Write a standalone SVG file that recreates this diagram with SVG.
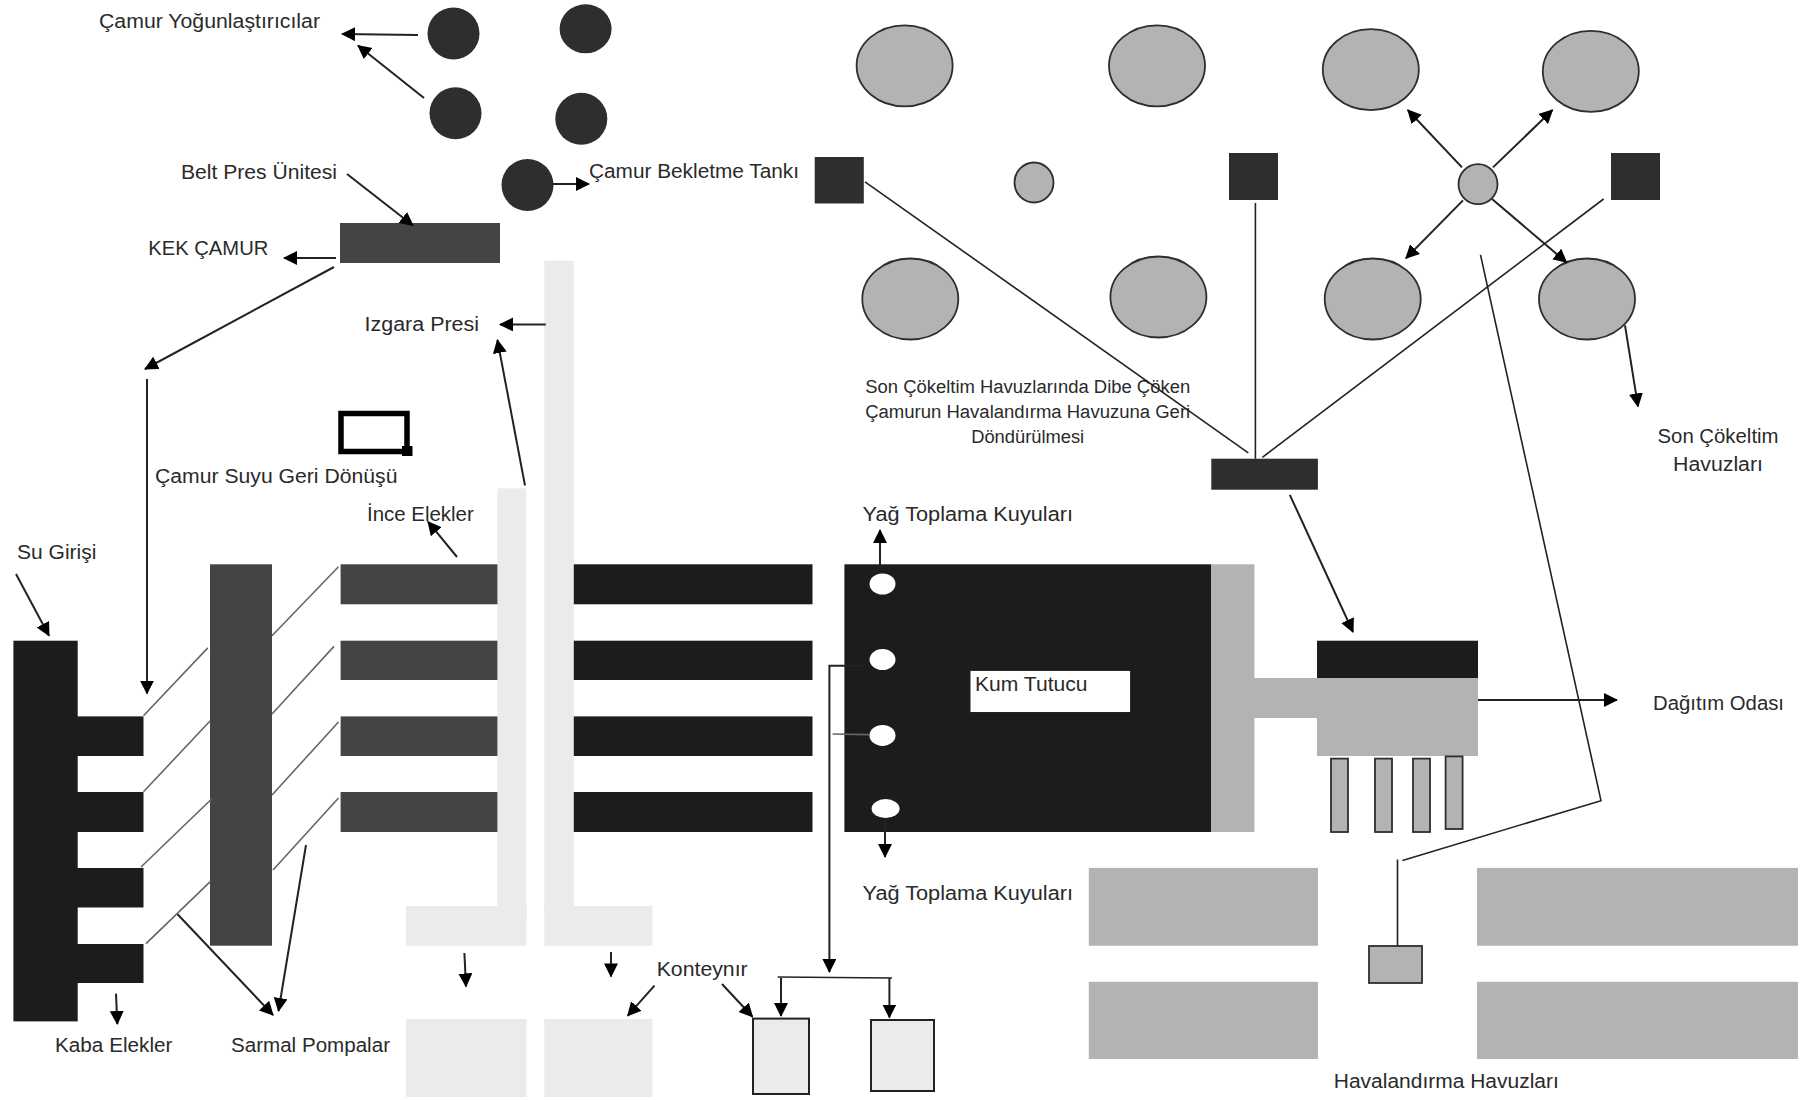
<svg xmlns="http://www.w3.org/2000/svg" width="1800" height="1100" viewBox="0 0 1800 1100">
<style>
text{font-family:"Liberation Sans",Arial,sans-serif;font-size:20px;fill:#2a2a2a}
text.sm{font-size:18px}
.k{fill:#1c1c1c}.d{fill:#444}.dc{fill:#2e2e2e}.g{fill:#b3b3b3}.l{fill:#ebebeb}
.gs{fill:#b3b3b3;stroke:#2e2e2e;stroke-width:1.8}
.ls{fill:#ebebeb;stroke:#222;stroke-width:2}
.a{fill:none;stroke:#222;stroke-width:2;marker-end:url(#ah)}
.n{fill:none;stroke:#222;stroke-width:1.6}
.s{fill:none;stroke:#666;stroke-width:1.6}
.w{fill:#fff}
</style>
<defs>
<marker id="ah" markerUnits="userSpaceOnUse" markerWidth="16" markerHeight="16" refX="13" refY="7" orient="auto"><path d="M0,0L14,7L0,14z" fill="#000"/></marker>
</defs>
<rect width="1800" height="1100" fill="#fff"/>
<g id="thickeners">
<ellipse class="dc" cx="453.5" cy="33.4" rx="26" ry="26"/>
<ellipse class="dc" cx="585.6" cy="28.8" rx="26" ry="24.5"/>
<ellipse class="dc" cx="455.5" cy="113.3" rx="26" ry="26"/>
<ellipse class="dc" cx="581.3" cy="118.8" rx="26" ry="26"/>
<text x="99" y="27.5" textLength="221" lengthAdjust="spacingAndGlyphs">Çamur Yoğunlaştırıcılar</text>
</g>
<g id="holding-tank">
<ellipse class="dc" cx="527.5" cy="185" rx="26" ry="26"/>
<text x="589" y="178" textLength="210" lengthAdjust="spacingAndGlyphs">Çamur Bekletme Tankı</text>
</g>
<g id="belt-press">
<rect class="d" x="340" y="223" width="160" height="40"/>
<text x="181" y="179" textLength="156" lengthAdjust="spacingAndGlyphs">Belt Pres Ünitesi</text>
</g>
<g id="cake"><text x="148.3" y="254.8" textLength="120" lengthAdjust="spacingAndGlyphs">KEK ÇAMUR</text></g>
<g id="grid-press"><text x="364.6" y="331.3" textLength="114.4" lengthAdjust="spacingAndGlyphs">Izgara Presi</text></g>
<g id="return-water">
<rect x="341" y="413.5" width="66" height="38" fill="none" stroke="#000" stroke-width="5.5"/>
<rect x="402" y="446" width="10.5" height="10" fill="#000"/>
<text x="155" y="483" textLength="242.4" lengthAdjust="spacingAndGlyphs">Çamur Suyu Geri Dönüşü</text>
</g>
<g id="coarse-screens">
<rect class="k" x="13.4" y="640.7" width="64.3" height="380.7"/>
<rect class="k" x="77" y="716.4" width="66.5" height="39.6"/>
<rect class="k" x="77" y="792" width="66.5" height="40"/>
<rect class="k" x="77" y="868" width="66.5" height="39.5"/>
<rect class="k" x="77" y="944" width="66.5" height="39"/>
<text x="55" y="1051.8" textLength="117.5" lengthAdjust="spacingAndGlyphs">Kaba Elekler</text>
</g>
<g id="inlet"><text x="17" y="558.6" textLength="79.4" lengthAdjust="spacingAndGlyphs">Su Girişi</text></g>
<g id="screw-pumps">
<rect class="d" x="210" y="564.3" width="62" height="381.4"/>
<text x="231" y="1051.8" textLength="159" lengthAdjust="spacingAndGlyphs">Sarmal Pompalar</text>
</g>
<g id="fine-screens">
<rect class="d" x="340.6" y="564.3" width="157.4" height="40"/>
<rect class="d" x="340.6" y="640.7" width="157.4" height="39.3"/>
<rect class="d" x="340.6" y="716.4" width="157.4" height="39.6"/>
<rect class="d" x="340.6" y="792" width="157.4" height="40"/>
<text x="367" y="520.7" textLength="106.7" lengthAdjust="spacingAndGlyphs">İnce Elekler</text>
</g>
<g id="channels">
<rect class="k" x="572.6" y="564.3" width="239.9" height="40"/>
<rect class="k" x="572.6" y="640.7" width="239.9" height="39.3"/>
<rect class="k" x="572.6" y="716.4" width="239.9" height="39.6"/>
<rect class="k" x="572.6" y="792" width="239.9" height="40"/>
</g>
<g id="screenings-conveyors">
<rect class="l" x="497.4" y="488.3" width="29" height="430"/>
<rect class="l" x="406" y="906" width="120.5" height="39.7"/>
<rect class="l" x="544.3" y="260.7" width="29.5" height="650"/>
<rect class="l" x="544.3" y="906" width="108.1" height="39.7"/>
</g>
<g id="skips">
<rect class="l" x="406" y="1019" width="120.5" height="78"/>
<rect class="l" x="544.3" y="1019" width="108.1" height="78"/>
<text x="656.7" y="976" textLength="91" lengthAdjust="spacingAndGlyphs">Konteynır</text>
</g>
<g id="containers">
<rect class="ls" x="753" y="1018.6" width="56" height="75.4"/>
<rect class="ls" x="871" y="1020" width="63" height="71"/>
</g>
<g id="grit-chamber">
<rect class="k" x="844.4" y="564.3" width="366.6" height="267.7"/>
<rect class="g" x="1211" y="564.3" width="43.4" height="267.7"/>
<rect class="w" x="970" y="670.4" width="160.6" height="42.1" stroke="#222" stroke-width="1"/>
<text x="975" y="691" textLength="112.5" lengthAdjust="spacingAndGlyphs">Kum Tutucu</text>
</g>
<g id="grease-wells">
<ellipse class="w" cx="882.5" cy="584" rx="13" ry="10.5"/>
<ellipse class="w" cx="882.5" cy="659.6" rx="13" ry="10.5"/>
<ellipse class="w" cx="882.5" cy="735.4" rx="13" ry="10.5"/>
<ellipse class="w" cx="885.6" cy="808.6" rx="14" ry="9.5"/>
<text x="862.5" y="520.7" textLength="210.5" lengthAdjust="spacingAndGlyphs">Yağ Toplama Kuyuları</text>
<text x="862.5" y="900" textLength="210.5" lengthAdjust="spacingAndGlyphs">Yağ Toplama Kuyuları</text>
</g>
<g id="distribution-chamber">
<rect class="g" x="1254" y="678" width="64" height="40"/>
<rect class="k" x="1317" y="640.7" width="161" height="37.3"/>
<rect class="g" x="1317" y="678" width="161" height="78"/>
<text x="1653" y="709.6" textLength="131" lengthAdjust="spacingAndGlyphs">Dağıtım Odası</text>
</g>
<g id="outlets">
<rect class="gs" x="1331" y="758.6" width="17" height="73.4"/>
<rect class="gs" x="1375" y="758.6" width="17" height="73.4"/>
<rect class="gs" x="1413" y="758.6" width="17" height="73.4"/>
<rect class="gs" x="1445.6" y="756.4" width="17" height="72.6"/>
</g>
<g id="aeration-tanks">
<rect class="g" x="1088.8" y="867.9" width="229.2" height="77.8"/>
<rect class="g" x="1088.8" y="981.8" width="229.2" height="77.2"/>
<rect class="g" x="1477" y="867.9" width="321" height="77.8"/>
<rect class="g" x="1477" y="981.8" width="321" height="77.2"/>
<text x="1333.8" y="1088" textLength="225" lengthAdjust="spacingAndGlyphs">Havalandırma Havuzları</text>
</g>
<g id="aeration-box"><rect class="gs" x="1369" y="946" width="53" height="37"/></g>
<g id="final-clarifiers">
<ellipse class="gs" cx="904.6" cy="65.8" rx="48" ry="40.5"/>
<ellipse class="gs" cx="1157" cy="65.8" rx="48" ry="40.5"/>
<ellipse class="gs" cx="1370.8" cy="69.6" rx="48" ry="40.5"/>
<ellipse class="gs" cx="1590.8" cy="71.3" rx="48" ry="40.5"/>
<ellipse class="gs" cx="910.3" cy="299" rx="48" ry="40.5"/>
<ellipse class="gs" cx="1158.4" cy="297" rx="48" ry="40.5"/>
<ellipse class="gs" cx="1372.7" cy="299" rx="48" ry="40.5"/>
<ellipse class="gs" cx="1587" cy="299" rx="48" ry="40.5"/>
<text x="1718" y="442.5" text-anchor="middle" textLength="121" lengthAdjust="spacingAndGlyphs">Son Çökeltim</text>
<text x="1718" y="471" text-anchor="middle" textLength="90" lengthAdjust="spacingAndGlyphs">Havuzları</text>
</g>
<g id="clarifier-hubs">
<ellipse class="gs" cx="1034" cy="182.5" rx="19.5" ry="20"/>
<ellipse class="gs" cx="1478" cy="184.2" rx="19.5" ry="20"/>
</g>
<g id="sludge-pits">
<rect class="dc" x="814.7" y="157" width="49.1" height="46.5"/>
<rect class="dc" x="1229" y="153" width="49" height="47"/>
<rect class="dc" x="1611" y="153" width="49" height="47"/>
</g>
<g id="return-sludge-pump">
<rect class="dc" x="1211.3" y="458.7" width="106.6" height="31"/>
<text class="sm" x="1027.7" y="393" text-anchor="middle" textLength="325" lengthAdjust="spacingAndGlyphs">Son Çökeltim Havuzlarında Dibe Çöken</text>
<text class="sm" x="1027.7" y="417.7" text-anchor="middle" textLength="325" lengthAdjust="spacingAndGlyphs">Çamurun Havalandırma Havuzuna Geri</text>
<text class="sm" x="1027.7" y="442.5" text-anchor="middle" textLength="113" lengthAdjust="spacingAndGlyphs">Döndürülmesi</text>
</g>
<g id="connectors">
<path class="a" d="M418,35L342,34"/>
<path class="a" d="M424,98L358,45.5"/>
<path class="a" d="M552.4,184L589,184"/>
<path class="a" d="M347,174L413,225.5"/>
<path class="a" d="M336,258L284,258"/>
<path class="a" d="M334,267L145,369"/>
<path class="a" d="M147,379L147,693.6"/>
<path class="a" d="M545.7,324.4L500,324.4"/>
<path class="a" d="M525,485.5L497.4,340"/>
<path class="a" d="M457,557L428,521.7"/>
<path class="a" d="M16,574L49,635.7"/>
<path class="a" d="M116,993.6L117.3,1024"/>
<path class="a" d="M177.3,914L273,1015"/>
<path class="a" d="M306,845L278.5,1011"/>
<path class="a" d="M464.4,953L466,986.4"/>
<path class="a" d="M611,952L611,976.4"/>
<path class="a" d="M654.5,985.7L627.7,1015.7"/>
<path class="a" d="M722,984L752.5,1016.8"/>
<path class="s" d="M143.5,715.7L207.8,647.9M272,635.7L338.5,566.8"/>
<path class="s" d="M143.5,791.8L210,721M272,714L334,646.4"/>
<path class="s" d="M141,867L211.6,799M272,795L338.5,722"/>
<path class="s" d="M146,943.6L210,881.8M273,870L338.5,798"/>
<path class="n" d="M777.7,977L892,978"/>
<path class="a" d="M781,978L781,1016"/>
<path class="a" d="M889.4,978L889.4,1017.5"/>
<path class="a" d="M870,665.7L829.4,665.7L829.4,972"/>
<path class="s" d="M832.5,734L869,734.6"/>
<path class="a" d="M880,568L880,530"/>
<path class="a" d="M885,818.6L885,857"/>
<path class="a" d="M1289.8,494.8L1353,632"/>
<path class="a" d="M1478,700L1617,700"/>
<path class="n" d="M1480.5,254.8L1601,800.7L1402.5,860.4M1397.5,859.6L1397.5,946"/>
<path class="n" d="M865,181.8L1248.3,452.8"/>
<path class="n" d="M1255.4,203L1255.4,458.7"/>
<path class="n" d="M1603.6,199L1262.4,457.3"/>
<path class="a" d="M1462,167.4L1407.8,110"/>
<path class="a" d="M1493,167.4L1552.5,110"/>
<path class="a" d="M1463,200.4L1405.9,258.3"/>
<path class="a" d="M1492,199L1566.6,262.4"/>
<path class="a" d="M1625,325.4L1638,406.4"/>
</g>
</svg>
